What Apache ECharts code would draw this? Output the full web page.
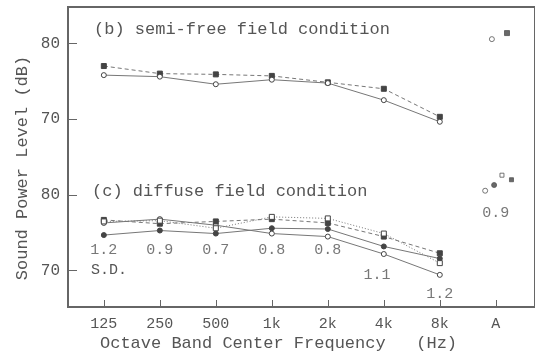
<!DOCTYPE html>
<html>
<head>
<meta charset="utf-8">
<script src="https://cdn.jsdelivr.net/npm/echarts@6/dist/echarts.min.js"></script>
<style>html,body{margin:0;padding:0;background:#fff;}#c{width:535px;height:356px;}</style>
</head>
<body>
<div id="c"></div>
<script>
// Categories (octave band centre frequencies + overall A)
const categories = ['125', '250', '500', '1k', '2k', '4k', '8k', 'A'];
// Lower panel (c) is drawn 20 dB below its labelled values on a shared axis
const PANEL_OFFSET = 20;
const yTickValues = [80, 70, 60, 50];

// (b) semi-free field condition
const semiFreeFilled = [77.0, 76.0, 75.9, 75.7, 74.85, 74.0, 70.3];
const semiFreeOpen   = [75.8, 75.6, 74.6, 75.2, 74.75, 72.5, 69.65];
const semiFreeAOpen   = [6.93, 80.55];
const semiFreeAFilled = [7.2, 81.35];

// (c) diffuse field condition (labelled values)
const diffFilledCircle = [74.7, 75.3, 74.9, 75.6, 75.5, 73.2, 71.6];
const diffOpenCircle   = [76.3, 76.8, 76.0, 74.9, 74.5, 72.2, 69.45];
const diffFilledSquare = [76.7, 76.2, 76.5, 76.8, 76.3, 74.5, 72.3];
const diffOpenSquare   = [76.5, 76.6, 75.6, 77.1, 76.9, 74.9, 71.0];
const diffAOpenCircle   = [6.81, 80.55];
const diffAFilledCircle = [6.97, 81.3];
const diffAOpenSquare   = [7.11, 82.6];
const diffAFilledSquare = [7.28, 82.0];

// Standard deviations for (c)
const sdValues = ['1.2', '0.9', '0.7', '0.8', '0.8', '1.1', '1.2', '0.9'];
const sdX      = [0, 1, 2, 3, 4, 4.88, 6, 7];
const sdLevel  = [72.7, 72.7, 72.7, 72.7, 72.7, 69.4, 66.9, 77.6]; // labelled scale

const FONT = '"Liberation Mono", "DejaVu Sans Mono", monospace';
const INK = '#555';
const LINE = '#777';

const idx = categories.slice(0, 7).map((_, i) => i);
const pairs = (arr, off) => arr.map((v, i) => [idx[i], v - (off || 0)]);

function lineSeries(data, symbol, filled, type) {
  return {
    type: 'line', data: data, symbol: symbol, symbolSize: 5,
    lineStyle: { color: LINE, width: 1, type: type },
    itemStyle: { color: filled ? '#444' : '#fff', borderColor: '#444', borderWidth: 1 },
    z: 3, silent: true
  };
}
function pointSeries(pt, symbol, filled, size, off) {
  return {
    type: 'scatter', data: [[pt[0], pt[1] - (off || 0)]], symbol: symbol, symbolSize: size || 5,
    itemStyle: { color: filled ? '#444' : '#fff', borderColor: '#555', borderWidth: 1 },
    silent: true
  };
}

const chart = echarts.init(document.getElementById('c'), null, { renderer: 'canvas' });
chart.setOption({
  animation: false,
  backgroundColor: '#fff',
  grid: { left: 68, top: 7, right: -12, bottom: 49, show: true, borderColor: '#666', borderWidth: 2 },
  xAxis: {
    type: 'value', min: -0.64, max: 7.7,
    splitLine: { show: false },
    axisLine: { onZero: false, lineStyle: { color: '#666', width: 2 } },
    axisTick: { inside: true, length: 7, customValues: categories.map((_, i) => i), lineStyle: { color: '#666', width: 1 } },
    axisLabel: {
      customValues: categories.map((_, i) => i), margin: 10,
      formatter: v => categories[Math.round(v)] || '',
      color: INK, fontFamily: FONT, fontSize: 15
    }
  },
  yAxis: {
    type: 'value', min: 45.21, max: 84.79,
    splitLine: { show: false },
    axisLine: { onZero: false, lineStyle: { color: '#666', width: 2 } },
    axisTick: { inside: true, length: 9, customValues: yTickValues, lineStyle: { color: '#666', width: 1 } },
    axisLabel: {
      customValues: yTickValues, margin: 8,
      formatter: v => String(v >= 65 ? v : v + PANEL_OFFSET),
      color: INK, fontFamily: FONT, fontSize: 16
    }
  },
  graphic: [
    { type: 'text', x: 22, y: 168, rotation: Math.PI / 2,
      style: { text: 'Sound Power Level (dB)', fill: INK, font: '17px ' + FONT, align: 'center', verticalAlign: 'middle' } },
    { type: 'text', x: 100, y: 343,
      style: { text: 'Octave Band Center Frequency   (Hz)', fill: INK, font: '17px ' + FONT, align: 'left', verticalAlign: 'middle' } },
    { type: 'text', x: 94, y: 29,
      style: { text: '(b) semi-free field condition', fill: INK, font: '17px ' + FONT, align: 'left', verticalAlign: 'middle' } },
    { type: 'text', x: 92, y: 191,
      style: { text: '(c) diffuse field condition', fill: INK, font: '17px ' + FONT, align: 'left', verticalAlign: 'middle' } },
    { type: 'text', x: 91, y: 270,
      style: { text: 'S.D.', fill: INK, font: '15px ' + FONT, align: 'left', verticalAlign: 'middle' } }
  ],
  series: [
    lineSeries(pairs(semiFreeFilled), 'rect', true, [4, 3]),
    lineSeries(pairs(semiFreeOpen), 'circle', false, 'solid'),
    pointSeries(semiFreeAOpen, 'circle', false, 5),
    pointSeries(semiFreeAFilled, 'rect', true, 5),

    lineSeries(pairs(diffFilledCircle, PANEL_OFFSET), 'circle', true, 'solid'),
    lineSeries(pairs(diffOpenCircle, PANEL_OFFSET), 'circle', false, 'solid'),
    lineSeries(pairs(diffFilledSquare, PANEL_OFFSET), 'rect', true, [4, 3]),
    lineSeries(pairs(diffOpenSquare, PANEL_OFFSET), 'rect', false, [1, 2]),
    pointSeries(diffAOpenCircle, 'circle', false, 5, PANEL_OFFSET),
    pointSeries(diffAFilledCircle, 'circle', true, 5, PANEL_OFFSET),
    pointSeries(diffAOpenSquare, 'rect', false, 4, PANEL_OFFSET),
    pointSeries(diffAFilledSquare, 'rect', true, 4, PANEL_OFFSET),

    {
      type: 'scatter', symbolSize: 0, silent: true,
      data: sdValues.map((s, i) => ({ value: [sdX[i], sdLevel[i] - PANEL_OFFSET], name: s })),
      label: { show: true, position: 'inside', formatter: p => p.name, color: INK, fontFamily: FONT, fontSize: 15 }
    }
  ]
});
</script>
</body>
</html>
